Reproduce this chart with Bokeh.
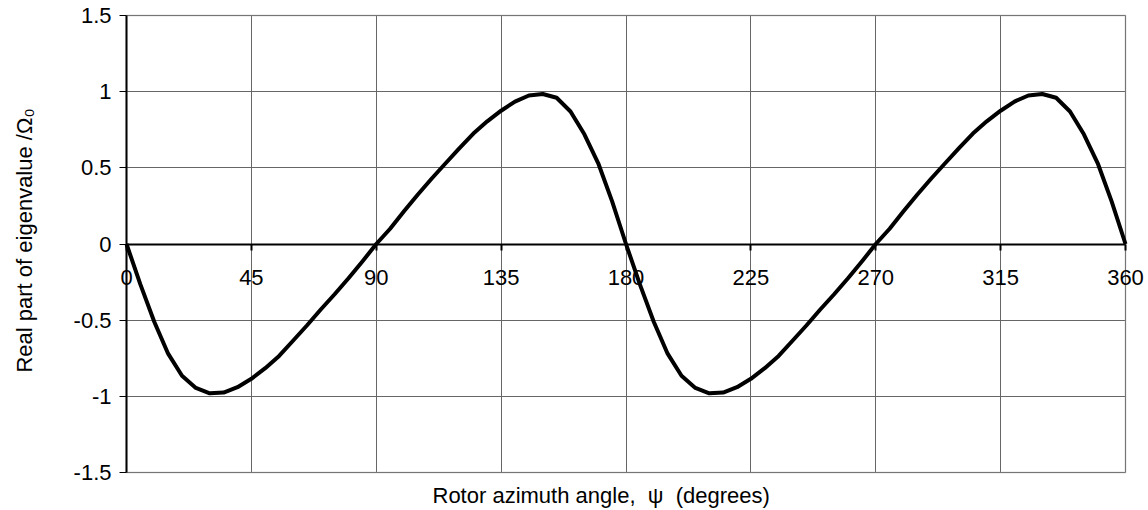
from bokeh.plotting import figure
from bokeh.models import Range1d, FixedTicker, LinearAxis, Title, BoxAnnotation
from bokeh.embed import file_html
from bokeh.resources import INLINE

# ---- data ----
psi_deg = list(range(0, 365, 5))
real_part = [
    0.000, -0.265, -0.510, -0.720, -0.865, -0.945, -0.980, -0.975, -0.940, -0.885,
    -0.815, -0.735, -0.635, -0.535, -0.430, -0.330, -0.225, -0.115, 0.000, 0.100,
    0.215, 0.325, 0.430, 0.530, 0.630, 0.725, 0.805, 0.875, 0.935, 0.975,
    0.985, 0.960, 0.870, 0.720, 0.530, 0.280,
    0.000, -0.265, -0.510, -0.720, -0.865, -0.945, -0.980, -0.975, -0.940, -0.885,
    -0.815, -0.735, -0.635, -0.535, -0.430, -0.330, -0.225, -0.115, 0.000, 0.100,
    0.215, 0.325, 0.430, 0.530, 0.630, 0.725, 0.805, 0.875, 0.935, 0.975,
    0.985, 0.960, 0.870, 0.720, 0.530, 0.280, 0.000,
]

x_ticks = [0, 45, 90, 135, 180, 225, 270, 315, 360]
x_tick_labels = ["0", "45", "90", "135", "180", "225", "270", "315", "360"]
y_ticks = [-1.5, -1.0, -0.5, 0.0, 0.5, 1.0, 1.5]
y_tick_labels = ["-1.5", "-1", "-0.5", "0", "0.5", "1", "1.5"]

x_title = "Rotor azimuth angle,\u00a0\u00a0\u03c8\u00a0\u00a0(degrees)"
y_title = "Real part of eigenvalue /\u03a9\u2080"

FONT = "Liberation Sans"
FS = "22px"

# ---- layout (pixels) ----
W, H = 1148, 510
BORDER_L, BORDER_B = 45, 30          # panels for the two titles
PX_X0, PX_X1 = 126, 1125             # page x of psi = 0 and 360
PX_YT, PX_YB = 15, 472               # page y of +1.5 and -1.5
sx = (PX_X1 - PX_X0) / (x_ticks[-1] - x_ticks[0])
sy = (PX_YB - PX_YT) / (y_ticks[-1] - y_ticks[0])
frame_bottom = H - BORDER_B
x_start = x_ticks[0] - (PX_X0 - BORDER_L) / sx
x_end = x_ticks[-1] + (W - PX_X1) / sx
y_end = y_ticks[-1] + PX_YT / sy
y_start = y_ticks[0] - (frame_bottom - PX_YB) / sy

p = figure(width=W, height=H,
           x_range=Range1d(x_start, x_end), y_range=Range1d(y_start, y_end),
           x_axis_location=None, y_axis_location=None,
           output_backend="svg", toolbar_location=None,
           min_border_left=BORDER_L, min_border_right=0,
           min_border_top=0, min_border_bottom=BORDER_B)
p.background_fill_color = "white"
p.border_fill_color = "white"
p.outline_line_color = None

# grid limited to the plot box
p.xgrid.ticker = FixedTicker(ticks=x_ticks)
p.ygrid.ticker = FixedTicker(ticks=y_ticks)
p.xgrid.bounds = (x_ticks[0], x_ticks[-1])
p.xgrid.cross_bounds = (y_ticks[0], y_ticks[-1])
p.ygrid.bounds = (y_ticks[0], y_ticks[-1])
p.ygrid.cross_bounds = (x_ticks[0], x_ticks[-1])
for g in (p.xgrid, p.ygrid):
    g.grid_line_color = "#666666"
    g.grid_line_width = 1

# gray plot-area border
p.add_layout(BoxAnnotation(left=x_ticks[0], right=x_ticks[-1],
                           bottom=y_ticks[0], top=y_ticks[-1],
                           fill_alpha=0, line_color="#999999", line_width=2,
                           level="underlay"))

# x axis drawn at y = 0
xa = LinearAxis(fixed_location=0, bounds=(x_ticks[0], x_ticks[-1]))
xa.ticker = FixedTicker(ticks=x_ticks)
xa.major_label_overrides = {t: s for t, s in zip(x_ticks, x_tick_labels)}
xa.axis_line_color = "black"
xa.axis_line_width = 2
xa.major_tick_line_color = "black"
xa.major_tick_line_width = 2
xa.major_tick_out = 6
xa.major_tick_in = 0
xa.minor_tick_line_color = None
xa.major_label_standoff = 20
xa.major_label_text_font = FONT
xa.major_label_text_font_size = FS
xa.major_label_text_color = "black"
p.add_layout(xa, "below")

# y axis drawn at psi = 0
ya = LinearAxis(fixed_location=0, bounds=(y_ticks[0], y_ticks[-1]))
ya.ticker = FixedTicker(ticks=y_ticks)
ya.major_label_overrides = {t: s for t, s in zip(y_ticks, y_tick_labels)}
ya.axis_line_color = "black"
ya.axis_line_width = 2
ya.major_tick_line_color = "black"
ya.major_tick_line_width = 1
ya.major_tick_out = 7
ya.major_tick_in = 0
ya.minor_tick_line_color = None
ya.major_label_standoff = 8
ya.major_label_text_font = FONT
ya.major_label_text_font_size = FS
ya.major_label_text_color = "black"
p.add_layout(ya, "left")

# titles
p.add_layout(Title(text=y_title, align="center", offset=7, standoff=17,
                   text_font=FONT, text_font_size=FS, text_font_style="normal",
                   text_color="black"), "left")
p.add_layout(Title(text=x_title, align="left", offset=432 - BORDER_L, standoff=1,
                   text_font=FONT, text_font_size=FS, text_font_style="normal",
                   text_color="black"), "below")

# curve
p.line(psi_deg, real_part, line_color="black", line_width=4, line_join="round")

open("out.html", "w").write(file_html(p, INLINE))
